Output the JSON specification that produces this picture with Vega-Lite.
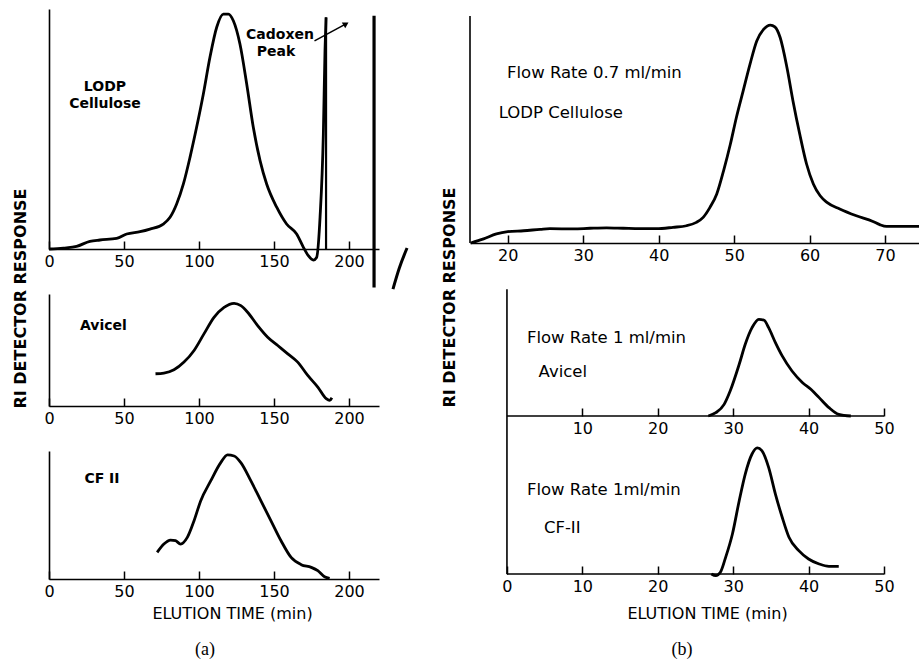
{
  "$schema": "https://vega.github.io/schema/vega-lite/v6.json",
  "background": "white",
  "padding": {"left": 12, "top": 8, "right": 0, "bottom": 0},
  "autosize": {"type": "pad"},
  "config": {
    "view": {"stroke": null},
    "font": "DejaVu Sans",
    "axis": {"domainColor": "black", "domainWidth": 1.6, "tickColor": "black", "tickWidth": 1.5, "tickSize": -8, "labelPadding": 12, "labelFont": "DejaVu Sans", "labelFontSize": 16, "labelColor": "black", "grid": false, "titleColor": "black", "titleFont": "DejaVu Sans", "labelFlush": false},
    "axisY": {"ticks": false, "labels": false},
    "title": {"font": "Liberation Serif", "fontSize": 18, "fontWeight": "normal", "color": "black"}
  },
  "datasets": {
    "lodpA": [{"t":0,"r":0},{"t":9.6,"r":0.4},{"t":18.4,"r":1.1},{"t":27.3,"r":3.2},{"t":34,"r":3.75},{"t":45.1,"r":4.4},{"t":51.8,"r":6.25},{"t":60.7,"r":7.2},{"t":67.3,"r":8.3},{"t":76.2,"r":10.4},{"t":80.7,"r":13.2},{"t":85.1,"r":18.75},{"t":89.6,"r":27.1},{"t":94,"r":38.2},{"t":98.4,"r":50.7},{"t":102.9,"r":64.6},{"t":107.3,"r":79.9},{"t":111.8,"r":92.4},{"t":116.2,"r":97.9},{"t":119.6,"r":97.9},{"t":122.9,"r":95.1},{"t":127.3,"r":85.4},{"t":131.8,"r":68.75},{"t":136.2,"r":50.7},{"t":140.7,"r":36.8},{"t":145.1,"r":27.1},{"t":151.8,"r":17.4},{"t":158.4,"r":10.4},{"t":165.1,"r":6.25},{"t":169.6,"r":0.7},{"t":172.9,"r":-2.8},{"t":176.2,"r":-4.6},{"t":178.4,"r":-3.5},{"t":180.7,"r":13.2},{"t":182.9,"r":47.9},{"t":184,"r":82.6},{"t":184.7,"r":96.5}],
    "cadoxenRule": [{"t":184.7,"r":0,"r2":96.5}],
    "breakRule": [{"t":216.7,"r":-16,"r2":97.2}],
    "arrowA": [{"t":177,"r":86.7},{"t":198,"r":93.8}],
    "arrowHeadA": [{"t":198,"r":93.8}],
    "slashA": [{"t":229.3,"r":-16.7},{"t":233.5,"r":-8},{"t":238.7,"r":0.4}],
    "textA1": [{"t":37.3,"r":67.5,"label":"LODP"},{"t":37.3,"r":60.4,"label":"Cellulose"},{"t":154,"r":89.2,"label":"Cadoxen"},{"t":151.3,"r":82.1,"label":"Peak"}],
    "avicelA": [{"t":71,"r":28.8},{"t":76.6,"r":29.4},{"t":83.3,"r":32.3},{"t":90,"r":39.2},{"t":96.7,"r":49.6},{"t":103.3,"r":64.4},{"t":110,"r":79.2},{"t":116.7,"r":88.1},{"t":123.4,"r":91.7},{"t":127.9,"r":89.6},{"t":132.4,"r":83.7},{"t":139.1,"r":71.8},{"t":145.8,"r":61.4},{"t":152.5,"r":54},{"t":159.2,"r":46.6},{"t":165.8,"r":39.2},{"t":172.5,"r":27.3},{"t":179.2,"r":16.9},{"t":184.8,"r":6.5},{"t":187.1,"r":5},{"t":188.6,"r":7.4}],
    "textA2": [{"t":36.3,"r":71.4,"label":"Avicel"}],
    "cf2A": [{"t":72.1,"r":20.8},{"t":76.6,"r":27.3},{"t":81,"r":30.4},{"t":84.4,"r":29.9},{"t":87.7,"r":27.3},{"t":92.2,"r":32.5},{"t":96.7,"r":45.5},{"t":101.1,"r":61},{"t":107.8,"r":76.6},{"t":114.5,"r":90.9},{"t":119,"r":96.9},{"t":123.4,"r":96.1},{"t":127.9,"r":90.9},{"t":134.6,"r":76.6},{"t":141.3,"r":61},{"t":148,"r":45.5},{"t":154.7,"r":29.9},{"t":161.4,"r":16.9},{"t":168.1,"r":11.2},{"t":174.8,"r":9.1},{"t":179.2,"r":6.5},{"t":183.7,"r":1.8},{"t":187.1,"r":0.5}],
    "textA3": [{"t":35.3,"r":78.5,"label":"CF II"}],
    "lodpB": [{"t":15.1,"r":0},{"t":16.8,"r":1.8},{"t":18.5,"r":4},{"t":20,"r":5},{"t":22.1,"r":5.4},{"t":24.3,"r":6},{"t":25.6,"r":6.3},{"t":28.7,"r":6.2},{"t":30.9,"r":6.5},{"t":33.1,"r":6.7},{"t":35.3,"r":6.5},{"t":37.5,"r":6.3},{"t":39.7,"r":6.3},{"t":41.9,"r":6.9},{"t":43.7,"r":7.6},{"t":45,"r":9.1},{"t":45.9,"r":11.3},{"t":46.8,"r":15.7},{"t":47.7,"r":21.6},{"t":48.6,"r":31.8},{"t":49.5,"r":43.5},{"t":50.3,"r":55.3},{"t":51.2,"r":67},{"t":52.1,"r":78.7},{"t":53,"r":89},{"t":53.9,"r":94.1},{"t":54.8,"r":96},{"t":55.4,"r":95.2},{"t":56.1,"r":90.5},{"t":57,"r":77.3},{"t":57.8,"r":62.6},{"t":58.7,"r":47.9},{"t":59.6,"r":34.8},{"t":60.5,"r":26},{"t":61.4,"r":20.8},{"t":62.3,"r":17.9},{"t":64,"r":15},{"t":66.2,"r":12},{"t":68.4,"r":9.5},{"t":69.3,"r":8.1},{"t":70.2,"r":7.3},{"t":72,"r":7.3},{"t":74.5,"r":7.3}],
    "textB1": [{"t":19.9,"r":75,"label":"Flow Rate 0.7 ml/min"},{"t":18.8,"r":57.3,"label":"LODP Cellulose"}],
    "avicelB": [{"t":26.7,"r":0},{"t":27.7,"r":2.6},{"t":28.8,"r":9.2},{"t":29.6,"r":19.7},{"t":30.8,"r":40.8},{"t":31.6,"r":56.6},{"t":32.5,"r":69.7},{"t":33.4,"r":76.3},{"t":34.1,"r":75.5},{"t":34.7,"r":69.7},{"t":35.6,"r":57.9},{"t":36.5,"r":47.4},{"t":37.8,"r":35.5},{"t":39.2,"r":26.3},{"t":40.3,"r":21.1},{"t":41.4,"r":14.5},{"t":42.7,"r":6.6},{"t":44,"r":1.3},{"t":45.6,"r":0}],
    "textB2": [{"t":2.65,"r":61.2,"label":"Flow Rate 1 ml/min"},{"t":4.2,"r":34.9,"label":"Avicel"}],
    "cf2B": [{"t":27.1,"r":0},{"t":27.7,"r":-1.3},{"t":28.3,"r":1.3},{"t":29,"r":13},{"t":29.9,"r":31.2},{"t":30.8,"r":57.1},{"t":31.6,"r":77.9},{"t":32.5,"r":93.5},{"t":33.2,"r":98.2},{"t":33.8,"r":96.1},{"t":34.7,"r":83.1},{"t":35.6,"r":62.3},{"t":36.5,"r":44.2},{"t":37.4,"r":28.6},{"t":38.7,"r":18.2},{"t":40,"r":11.7},{"t":41.4,"r":7.8},{"t":42.7,"r":6},{"t":44,"r":6}],
    "textB3": [{"t":2.65,"r":65.5,"label":"Flow Rate 1ml/min"},{"t":4.9,"r":35.5,"label":"CF-II"}],
    "blank": [{"k":1}]
  },
  "hconcat": [
    {
      "vconcat": [
        {
          "width": 330, "height": 240,
          "encoding": {
            "x": {"field": "t", "type": "quantitative", "scale": {"domain": [0, 220], "nice": false, "zero": false}, "axis": {"values": [0, 50, 100, 150, 200], "title": null}},
            "y": {"field": "r", "type": "quantitative", "scale": {"domain": [0, 100], "nice": false, "zero": false}, "axis": {"title": "RI DETECTOR RESPONSE", "titleX": -29, "titleY": 289, "titleAngle": -90, "titleAlign": "center", "titleBaseline": "middle", "titleFontSize": 16, "titleFontWeight": "bold"}}
          },
          "layer": [
            {"data": {"name": "lodpA"}, "mark": {"type": "line", "color": "black", "strokeWidth": 2.8, "interpolate": "monotone"}},
            {"data": {"name": "cadoxenRule"}, "mark": {"type": "rule", "color": "black", "strokeWidth": 2.2}, "encoding": {"y2": {"field": "r2"}}},
            {"data": {"name": "breakRule"}, "mark": {"type": "rule", "color": "black", "strokeWidth": 3.2}, "encoding": {"y2": {"field": "r2"}}},
            {"data": {"name": "arrowA"}, "mark": {"type": "line", "color": "black", "strokeWidth": 1.5}},
            {"data": {"name": "arrowHeadA"}, "mark": {"type": "point", "shape": "triangle-right", "filled": true, "color": "black", "size": 45, "angle": -31, "opacity": 1}},
            {"data": {"name": "slashA"}, "mark": {"type": "line", "color": "black", "strokeWidth": 3, "interpolate": "monotone"}},
            {"data": {"name": "textA1"}, "mark": {"type": "text", "align": "center", "baseline": "middle", "font": "DejaVu Sans", "fontSize": 14, "fontWeight": "bold", "color": "black"}, "encoding": {"text": {"field": "label"}}}
          ]
        },
        {
          "width": 330, "height": 112,
          "encoding": {
            "x": {"field": "t", "type": "quantitative", "scale": {"domain": [0, 220], "nice": false, "zero": false}, "axis": {"values": [0, 50, 100, 150, 200], "title": null}},
            "y": {"field": "r", "type": "quantitative", "scale": {"domain": [0, 100], "nice": false, "zero": false}, "axis": {"title": null}}
          },
          "layer": [
            {"data": {"name": "avicelA"}, "mark": {"type": "line", "color": "black", "strokeWidth": 2.8, "interpolate": "monotone"}},
            {"data": {"name": "textA2"}, "mark": {"type": "text", "align": "center", "baseline": "middle", "font": "DejaVu Sans", "fontSize": 14, "fontWeight": "bold", "color": "black"}, "encoding": {"text": {"field": "label"}}}
          ]
        },
        {
          "width": 330, "height": 128,
          "title": {"text": "(a)", "orient": "bottom", "anchor": "middle", "dx": -9, "offset": 20},
          "encoding": {
            "x": {"field": "t", "type": "quantitative", "scale": {"domain": [0, 220], "nice": false, "zero": false}, "axis": {"values": [0, 50, 100, 150, 200], "title": "ELUTION TIME (min)", "titleX": 183, "titleY": 34, "titleAlign": "center", "titleBaseline": "middle", "titleFontSize": 16, "titleFontWeight": "normal"}},
            "y": {"field": "r", "type": "quantitative", "scale": {"domain": [0, 100], "nice": false, "zero": false}, "axis": {"title": null}}
          },
          "layer": [
            {"data": {"name": "cf2A"}, "mark": {"type": "line", "color": "black", "strokeWidth": 2.8, "interpolate": "monotone"}},
            {"data": {"name": "textA3"}, "mark": {"type": "text", "align": "center", "baseline": "middle", "font": "DejaVu Sans", "fontSize": 14, "fontWeight": "bold", "color": "black"}, "encoding": {"text": {"field": "label"}}}
          ]
        }
      ],
      "spacing": 45,
      "bounds": "flush"
    },
    {
      "vconcat": [
        {
          "width": 449, "height": 234,
          "layer": [
            {"data": {"name": "lodpB"}, "mark": {"type": "line", "color": "black", "strokeWidth": 2.8, "interpolate": "monotone"},
             "encoding": {
               "x": {"field": "t", "type": "quantitative", "scale": {"domain": [15, 74.5], "nice": false, "zero": false}, "axis": {"values": [20, 30, 40, 50, 60, 70], "title": null}},
               "y": {"field": "r", "type": "quantitative", "scale": {"domain": [0, 103.08], "nice": false, "zero": false}, "axis": {"domain": false, "title": "RI DETECTOR RESPONSE", "titleX": -21, "titleY": 288, "titleAngle": -90, "titleAlign": "center", "titleBaseline": "middle", "titleFontSize": 16, "titleFontWeight": "bold"}}
             }},
            {"data": {"name": "blank"}, "mark": {"type": "rule", "color": "black", "strokeWidth": 1.6},
             "encoding": {"x": {"datum": 15, "type": "quantitative"}, "y": {"datum": 0, "type": "quantitative"}, "y2": {"datum": 100}}},
            {"data": {"name": "textB1"}, "mark": {"type": "text", "align": "left", "baseline": "middle", "font": "DejaVu Sans", "fontSize": 16.5, "color": "black"},
             "encoding": {"x": {"field": "t", "type": "quantitative"}, "y": {"field": "r", "type": "quantitative"}, "text": {"field": "label"}}}
          ]
        },
        {
          "width": 414, "height": 173,
          "layer": [
            {"data": {"name": "avicelB"}, "mark": {"type": "line", "color": "black", "strokeWidth": 2.8, "interpolate": "monotone"},
             "encoding": {
               "x": {"field": "t", "type": "quantitative", "scale": {"domain": [-4.9, 50], "nice": false, "zero": false}, "axis": {"domain": false, "values": [10, 20, 30, 40, 50], "title": null}},
               "y": {"field": "r", "type": "quantitative", "scale": {"domain": [0, 136.5], "nice": false, "zero": false}, "axis": null}
             }},
            {"data": {"name": "blank"}, "mark": {"type": "rule", "color": "black", "strokeWidth": 1.6},
             "encoding": {"x": {"datum": 0, "type": "quantitative"}, "y": {"datum": 0, "type": "quantitative"}, "y2": {"datum": 100}}},
            {"data": {"name": "blank"}, "mark": {"type": "rule", "color": "black", "strokeWidth": 1.6},
             "encoding": {"x": {"datum": 0, "type": "quantitative"}, "x2": {"datum": 50}, "y": {"datum": 0, "type": "quantitative"}}},
            {"data": {"name": "textB2"}, "mark": {"type": "text", "align": "left", "baseline": "middle", "font": "DejaVu Sans", "fontSize": 16.5, "color": "black"},
             "encoding": {"x": {"field": "t", "type": "quantitative"}, "y": {"field": "r", "type": "quantitative"}, "text": {"field": "label"}}}
          ]
        },
        {
          "width": 414, "height": 158,
          "title": {"text": "(b)", "orient": "bottom", "anchor": "middle", "dx": 5, "offset": 20},
          "layer": [
            {"data": {"name": "cf2B"}, "mark": {"type": "line", "color": "black", "strokeWidth": 2.8, "interpolate": "monotone"},
             "encoding": {
               "x": {"field": "t", "type": "quantitative", "scale": {"domain": [-4.9, 50], "nice": false, "zero": false}, "axis": {"domain": false, "values": [0, 10, 20, 30, 40, 50], "title": "ELUTION TIME (min)", "titleX": 237, "titleY": 39, "titleAlign": "center", "titleBaseline": "middle", "titleFontSize": 16, "titleFontWeight": "normal"}},
               "y": {"field": "r", "type": "quantitative", "scale": {"domain": [0, 123.1], "nice": false, "zero": false}, "axis": null}
             }},
            {"data": {"name": "blank"}, "mark": {"type": "rule", "color": "black", "strokeWidth": 1.6},
             "encoding": {"x": {"datum": 0, "type": "quantitative"}, "y": {"datum": 0, "type": "quantitative"}, "y2": {"datum": 123.1}}},
            {"data": {"name": "blank"}, "mark": {"type": "rule", "color": "black", "strokeWidth": 1.6},
             "encoding": {"x": {"datum": 0, "type": "quantitative"}, "x2": {"datum": 50}, "y": {"datum": 0, "type": "quantitative"}}},
            {"data": {"name": "textB3"}, "mark": {"type": "text", "align": "left", "baseline": "middle", "font": "DejaVu Sans", "fontSize": 16.5, "color": "black"},
             "encoding": {"x": {"field": "t", "type": "quantitative"}, "y": {"field": "r", "type": "quantitative"}, "text": {"field": "label"}}}
          ]
        }
      ],
      "spacing": 0,
      "bounds": "flush"
    }
  ],
  "spacing": 27
}
